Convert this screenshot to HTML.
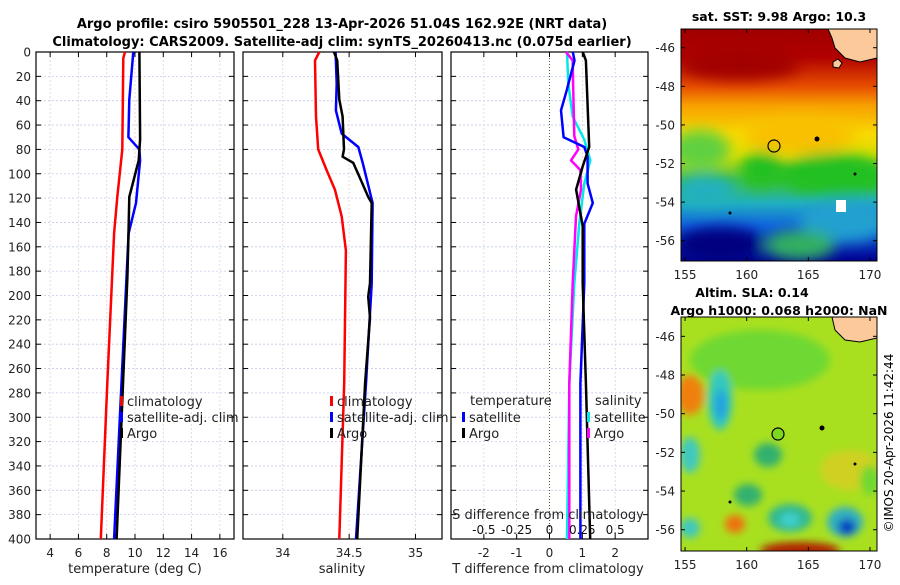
<!DOCTYPE html>
<html><head><meta charset="utf-8"><style>
body{margin:0;background:#fff;width:900px;height:580px;overflow:hidden}
svg{font-family:"DejaVu Sans","Liberation Sans",sans-serif}
</style></head><body>
<svg id="fig" width="900" height="580" viewBox="0 0 900 580">
<defs>
<filter id="bl" x="-50%" y="-50%" width="200%" height="200%"><feGaussianBlur stdDeviation="7"/></filter>
<filter id="bl2" x="-50%" y="-50%" width="200%" height="200%"><feGaussianBlur stdDeviation="4"/></filter>
<clipPath id="c1"><rect x="681" y="29" width="196" height="232"/></clipPath>
<clipPath id="c2"><rect x="681" y="317" width="196" height="234"/></clipPath>
<linearGradient id="sstg" x1="0" y1="0" x2="0" y2="1">
<stop offset="0" stop-color="#a00000"/><stop offset="0.12" stop-color="#b00000"/>
<stop offset="0.25" stop-color="#e85000"/><stop offset="0.33" stop-color="#f8a000"/>
<stop offset="0.45" stop-color="#f8d800"/><stop offset="0.55" stop-color="#e0e000"/>
<stop offset="0.65" stop-color="#40c040"/><stop offset="0.75" stop-color="#20b0c0"/>
<stop offset="0.85" stop-color="#1060e0"/><stop offset="1" stop-color="#000090"/>
</linearGradient>
</defs>
<text x="342" y="28" font-size="13" font-weight="bold" text-anchor="middle">Argo profile: csiro 5905501_228 13-Apr-2026 51.04S 162.92E (NRT data)</text>
<text x="342" y="46" font-size="13" font-weight="bold" text-anchor="middle">Climatology: CARS2009. Satellite-adj clim: synTS_20260413.nc (0.075d earlier)</text>
<g id="panels"></g>

<g>
<g clip-path="url(#c1)">
<rect x="681" y="29" width="196" height="232" fill="url(#sstg)"/>
<g filter="url(#bl)">
<ellipse cx="835" cy="175" rx="55" ry="22" fill="#20c020"/>
<ellipse cx="845" cy="220" rx="45" ry="22" fill="#20a0d0"/>
<ellipse cx="700" cy="150" rx="30" ry="20" fill="#60d040"/>
<ellipse cx="705" cy="190" rx="30" ry="15" fill="#20b0c0"/>
<ellipse cx="762" cy="170" rx="22" ry="18" fill="#20c020"/>
<ellipse cx="800" cy="135" rx="55" ry="18" fill="#f8c000"/>
<ellipse cx="720" cy="245" rx="45" ry="18" fill="#000080"/>
<ellipse cx="800" cy="245" rx="35" ry="15" fill="#30b060"/>
<ellipse cx="740" cy="65" rx="60" ry="15" fill="#a00000"/>
</g>
<rect x="836" y="200" width="10" height="12" fill="#fff"/>
<path d="M828,29 L877,29 L877,58 L860,62 L845,58 L835,48 L832,38 Z" fill="#fbc99a" stroke="#000" stroke-width="1"/>
<path d="M833,62 l5,-3 l4,4 l-3,5 l-6,-1 Z" fill="#fbc99a" stroke="#000"/>
<circle cx="817" cy="139" r="2.5" fill="#000"/><circle cx="855" cy="174" r="1.5" fill="#000"/><circle cx="730" cy="213" r="1.5" fill="#000"/>
<circle cx="774" cy="146" r="6" fill="none" stroke="#000" stroke-width="1.2"/>
</g>
<rect x="681" y="29" width="196" height="232" fill="none" stroke="#000"/>
<text x="779" y="21" font-size="12.5" font-weight="bold" text-anchor="middle">sat. SST: 9.98 Argo: 10.3</text>
</g>

<g>
<g clip-path="url(#c2)">
<rect x="681" y="317" width="196" height="234" fill="#a8e020"/>
<g filter="url(#bl2)">
<ellipse cx="760" cy="360" rx="70" ry="30" fill="#70d830"/>
<ellipse cx="690" cy="395" rx="14" ry="20" fill="#f08010"/>
<ellipse cx="720" cy="400" rx="12" ry="30" fill="#30c8c0"/>
<ellipse cx="721" cy="405" rx="6" ry="15" fill="#20a0e0"/>
<ellipse cx="690" cy="455" rx="10" ry="18" fill="#40c8c0"/>
<ellipse cx="768" cy="455" rx="14" ry="12" fill="#30b070"/>
<ellipse cx="748" cy="495" rx="14" ry="11" fill="#30b070"/>
<ellipse cx="790" cy="518" rx="22" ry="14" fill="#30b890"/>
<ellipse cx="790" cy="520" rx="10" ry="7" fill="#40d0d0"/>
<ellipse cx="845" cy="522" rx="18" ry="15" fill="#30b0c0"/>
<ellipse cx="847" cy="527" rx="9" ry="8" fill="#0040c0"/>
<ellipse cx="735" cy="524" rx="10" ry="9" fill="#f07010"/>
<ellipse cx="800" cy="550" rx="40" ry="8" fill="#b02000"/>
<ellipse cx="690" cy="528" rx="10" ry="10" fill="#40c8c0"/>
<ellipse cx="850" cy="470" rx="30" ry="20" fill="#d0d020"/>
<ellipse cx="870" cy="480" rx="10" ry="15" fill="#70d830"/>
</g>
<path d="M832,317 L877,317 L877,338 L860,342 L845,340 L835,330 Z" fill="#fbc99a" stroke="#000"/>
<circle cx="822" cy="428" r="2.5" fill="#000"/><circle cx="855" cy="464" r="1.5" fill="#000"/><circle cx="730" cy="502" r="1.5" fill="#000"/>
<circle cx="778" cy="434" r="6" fill="#7ed820" stroke="#000" stroke-width="1.2"/>
</g>
<rect x="681" y="317" width="196" height="234" fill="none" stroke="#000"/>
<text x="752" y="297" font-size="12.5" font-weight="bold" text-anchor="middle">Altim. SLA: 0.14</text>
<text x="779" y="315" font-size="12.5" font-weight="bold" text-anchor="middle">Argo h1000: 0.068 h2000: NaN</text>
</g>
<g id="mapaxes"></g>
<text transform="translate(893,443) rotate(-90)" font-size="12" text-anchor="middle">©IMOS 20-Apr-2026 11:42:44</text>
</svg>
<script>
const tDepth=[0,5,80,119,149,272,400];
const tClim=[9.29,9.17,9.10,8.75,8.52,8.04,7.58];
const tArgoDepth=[0,72,89,119,152,185,400];
const tArgo=[10.31,10.36,10.26,9.6,9.53,9.46,8.7];
const tSatDepth=[0,39,70,80,89,124,149,400];
const tSat=[9.88,9.6,9.53,10.31,10.36,10.07,9.55,8.52];
const sClimDepth=[0,7,53,80,97,113,135,163,272,400];
const sClim=[34.275,34.243,34.25,34.267,34.33,34.393,34.444,34.476,34.463,34.426];
const sArgoDepth=[0,7,39,53,80,86,91,102,119,124,190,201,218,272,400];
const sArgo=[34.386,34.41,34.426,34.451,34.461,34.451,34.531,34.576,34.644,34.67,34.657,34.644,34.657,34.62,34.561];
const sSatDepth=[0,26,48,67,78,91,124,190,272,400];
const sSat=[34.398,34.406,34.4,34.444,34.569,34.602,34.677,34.67,34.627,34.552];
const dTArgoDepth=[0,7,78,94,113,143,190,272,400];
const dTArgo=[1.01,1.11,1.21,1.01,0.81,1.01,1.01,1.11,1.24];
const dTSatDepth=[0,7,31,48,70,78,86,108,124,141,190,272,400];
const dTSat=[0.71,0.76,0.53,0.35,0.43,1.06,1.16,1.16,1.32,1.06,1.06,0.94,0.94];
const dSSatDepth=[0,26,53,72,89,108,141,190,272,400];
const dSSat=[0.133,0.143,0.177,0.265,0.311,0.265,0.227,0.189,0.151,0.133];
const dSArgoDepth=[0,7,26,69,80,89,97,113,135,190,272,400];
const dSArgo=[0.126,0.177,0.18,0.189,0.219,0.164,0.235,0.24,0.202,0.177,0.151,0.151];
const depthTicks=[0,20,40,60,80,100,120,140,160,180,200,220,240,260,280,300,320,340,360,380,400];
const tTicks=[4,6,8,10,12,14,16];
const sTicks=[34,34.5,35];
const dTTicks=[-2,-1,0,1,2];
const dSTicks=[-0.5,-0.25,0,0.25,0.5];
const dSTickLabels=['-0.5','-0.25','0','0.25','0.5'];

const NS='http://www.w3.org/2000/svg';
const P=document.getElementById('panels');
function mk(tag,at,parent){const e=document.createElementNS(NS,tag);for(const k in at)e.setAttribute(k,at[k]);(parent||P).appendChild(e);return e;}
const Y0=52,Y1=539;
const yS=d=>Y0+(d/400)*(Y1-Y0);
function lin(a,b,p,q){return v=>p+(v-a)/(b-a)*(q-p);}
const panels=[
 {name:'temperature-panel',x0:36,x1:234,xs:lin(3,17,36,234),ticks:tTicks},
 {name:'salinity-panel',x0:243,x1:442,xs:lin(33.7,35.2,243,442),ticks:sTicks},
 {name:'difference-panel',x0:451,x1:648,xs:lin(-3,3,451,648),ticks:dTTicks}];
panels.forEach((p,i)=>{
 const g=mk('g',{});
 
 
 depthTicks.forEach(d=>{const y=yS(d);
  if(d>0&&d<400){const l=mk('line',{x1:p.x0,x2:p.x1,y1:y,y2:y,stroke:'#c4cce8','stroke-width':0.8,'stroke-dasharray':'2,2'},g);
   }
  mk('line',{x1:p.x0,x2:p.x0+5,y1:y,y2:y,stroke:'#000'},g);mk('line',{x1:p.x1,x2:p.x1-5,y1:y,y2:y,stroke:'#000'},g);
  if(i==0){const t=mk('text',{x:31,y:y+4.5,'font-size':12,'text-anchor':'end',fill:'#222'},g);t.textContent=d;
   }
 });
 p.ticks.forEach(v=>{const x=p.xs(v);
  mk('line',{x1:x,x2:x,y1:Y0,y2:Y1,stroke:(i==2&&v==0)?'#4a6a30':'#e4d0d0','stroke-width':(i==2&&v==0)?1:0.8,'stroke-dasharray':(i==2&&v==0)?'1,2':'2,2'},g);
  mk('line',{x1:x,x2:x,y1:Y1,y2:Y1-5,stroke:'#000'},g);mk('line',{x1:x,x2:x,y1:Y0,y2:Y0+5,stroke:'#000'},g);
  const t=mk('text',{x:x,y:557,'font-size':12,'text-anchor':'middle',fill:'#222'},g);t.textContent=String(v);
  
 });
 mk('rect',{x:p.x0,y:Y0,width:p.x1-p.x0,height:Y1-Y0,fill:'none',stroke:'#000','stroke-width':1.2},g);
 p.g=g;
});
function line(p,xs,vals,deps,col,name){
 const pts=vals.map((v,k)=>xs(v).toFixed(1)+','+yS(deps[k]).toFixed(1)).join(' ');
 const e=mk('polyline',{points:pts,fill:'none',stroke:col,'stroke-width':2.5,'stroke-linejoin':'round'},p.g);
 
 
}
const p0=panels[0],p1=panels[1],p2=panels[2];
line(p0,p0.xs,tClim,tDepth,'#ff0000','temp-climatology-line');
line(p0,p0.xs,tSat,tSatDepth,'#0000ff','temp-satellite-line');
line(p0,p0.xs,tArgo,tArgoDepth,'#000000','temp-argo-line');
line(p1,p1.xs,sClim,sClimDepth,'#ff0000','sal-climatology-line');
line(p1,p1.xs,sSat,sSatDepth,'#0000ff','sal-satellite-line');
line(p1,p1.xs,sArgo,sArgoDepth,'#000000','sal-argo-line');
const dsx=lin(-0.75,0.75,451,648);
line(p2,dsx,dSSat,dSSatDepth,'#00e8e8','sdiff-satellite-line');
line(p2,dsx,dSArgo,dSArgoDepth,'#ff00ff','sdiff-argo-line');
line(p2,p2.xs,dTSat,dTSatDepth,'#0000ff','tdiff-satellite-line');
line(p2,p2.xs,dTArgo,dTArgoDepth,'#000000','tdiff-argo-line');
dSTicks.forEach((v,k)=>{const t=mk('text',{x:dsx(v),y:534,'font-size':12,'text-anchor':'middle',fill:'#111'},p2.g);t.textContent=dSTickLabels[k];
 });
function txt(x,y,s,name,anchor,size){const t=mk('text',{x:x,y:y,'font-size':size||13,'text-anchor':anchor||'start',fill:'#222'});t.textContent=s;
 return t;}
txt(548,519,'S difference from climatology','sdiff-axis-title','middle');
txt(135,573,'temperature (deg C)','temp-axis-title','middle');
txt(342,573,'salinity','sal-axis-title','middle');
txt(548,573,'T difference from climatology','tdiff-axis-title','middle');
function leg(x,y,col,label,name){const r=mk('rect',{x:x,y:y-9,width:3,height:10,fill:col});
 
 txt(x+7,y+1,label,name,'start');}
leg(120,405,'#ff0000','climatology','legend-climatology');
leg(120,421,'#0000ff','satellite-adj. clim','legend-satellite');
leg(120,437,'#000000','Argo','legend-argo');
leg(330,405,'#ff0000','climatology','legend2-climatology');
leg(330,421,'#0000ff','satellite-adj. clim','legend2-satellite');
leg(330,437,'#000000','Argo','legend2-argo');
txt(470,405,'temperature','legend-temperature-heading');
leg(462,421,'#0000ff','satellite','legend-t-satellite');
leg(462,437,'#000000','Argo','legend-t-argo');
txt(595,405,'salinity','legend-salinity-heading');
leg(587,421,'#00e8e8','satellite','legend-s-satellite');
leg(587,437,'#ff00ff','Argo','legend-s-argo');
const MA=document.getElementById('mapaxes');
const lonTicks=[155,160,165,170],latTicks=[-46,-48,-50,-52,-54,-56];
const lonX=lin(154.67,170.57,681,877);
[[29,261,-45.03,-57.05],[317,551,-45,-57.1]].forEach((m,i)=>{
 const ly=lin(m[2],m[3],m[0],m[1]);
 latTicks.forEach(v=>{const y=ly(v);
  mk('line',{x1:681,x2:685,y1:y,y2:y,stroke:'#000'},MA);mk('line',{x1:877,x2:873,y1:y,y2:y,stroke:'#000'},MA);
  const t=mk('text',{x:675,y:y+4.5,'font-size':12,'text-anchor':'end',fill:'#222'},MA);t.textContent=v;
  });
 lonTicks.forEach(v=>{const x=lonX(v);
  mk('line',{x1:x,x2:x,y1:m[1],y2:m[1]-4,stroke:'#000'},MA);mk('line',{x1:x,x2:x,y1:m[0],y2:m[0]+4,stroke:'#000'},MA);
  const t=mk('text',{x:x,y:m[1]+18,'font-size':12,'text-anchor':'middle',fill:'#222'},MA);t.textContent=v;
  });
});
</script>
</body></html>
